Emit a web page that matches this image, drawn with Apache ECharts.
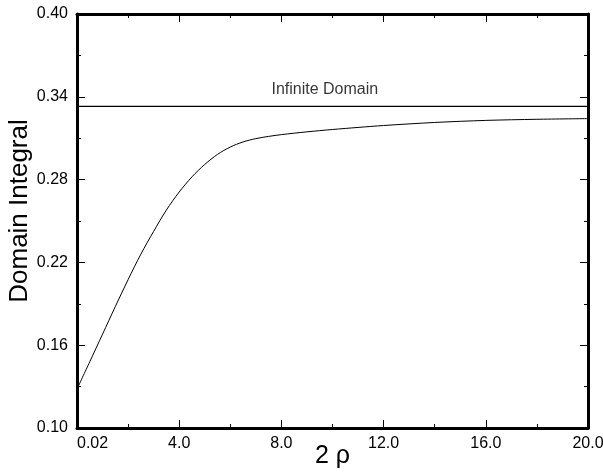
<!DOCTYPE html>
<html>
<head>
<meta charset="utf-8">
<script src="https://cdn.jsdelivr.net/npm/echarts@6/dist/echarts.min.js"></script>
<style>
html, body { margin: 0; padding: 0; background: #fff; }
#chart { width: 603px; height: 473px; }
</style>
</head>
<body>
<div id="chart"></div>
<script>
// 2 rho values and the domain integral
const rho2 = [0.02, 0.5, 1.0, 1.5, 2.0, 2.5, 3.0, 3.5, 4.0, 4.5, 5.0, 5.5, 6.0, 6.5, 7.0, 7.5, 8.0, 9.0, 10.0, 11.0, 12.0, 14.0, 16.0, 18.0, 20.0];
const integral = [0.129, 0.148, 0.168, 0.188, 0.2075, 0.226, 0.2425, 0.258, 0.271, 0.282, 0.291, 0.2983, 0.3036, 0.3073, 0.3097, 0.3113, 0.3126, 0.3146, 0.3163, 0.3178, 0.3192, 0.3214, 0.3229, 0.3237, 0.3242];

// infinite domain reference level
const infiniteX = [0, 20];
const infiniteY = [0.333, 0.333];
const infiniteLabel = "Infinite Domain";
const infiniteLabelX = 9.7;

const xTicks = { min: 0, max: 20, interval: 4 };
const yTicks = { min: 0.10, max: 0.40, interval: 0.06 };

const font = "'Liberation Sans', Arial, Helvetica, sans-serif";

const axisCommon = {
  axisLine: { show: true, onZero: false, lineStyle: { color: "#000", width: 3 } },
  axisTick: { show: true, inside: true, length: 8, lineStyle: { color: "#000", width: 1 } },
  minorTick: { show: true, splitNumber: 2, length: 4, lineStyle: { color: "#000", width: 1 } },
  splitLine: { show: false }
};

const chart = echarts.init(document.getElementById("chart"));
chart.setOption({
  animation: false,
  backgroundColor: "#fff",
  grid: { left: 77, right: 15, top: 14, bottom: 45, outerBoundsMode: "none" },
  xAxis: [
    {
      type: "value",
      position: "bottom",
      ...xTicks,
      ...axisCommon,
      name: "2 ρ",
      nameLocation: "middle",
      nameGap: 16,
      nameMoveOverlap: false,
      nameTextStyle: { fontFamily: font, fontSize: 25, color: "#000" },
      axisLabel: {
        color: "#000",
        fontFamily: font,
        fontSize: 16,
        margin: 8,
        alignMinLabel: "left",
        formatter: v => (v === 0 ? "0.02" : v.toFixed(1))
      }
    },
    {
      type: "value",
      position: "top",
      ...xTicks,
      ...axisCommon,
      axisLabel: { show: false }
    }
  ],
  yAxis: [
    {
      type: "value",
      position: "left",
      ...yTicks,
      ...axisCommon,
      name: "Domain Integral",
      nameLocation: "middle",
      nameGap: 44,
      nameMoveOverlap: false,
      nameTextStyle: { fontFamily: font, fontSize: 26, color: "#000", padding: [0, 0, 0, 20] },
      axisLabel: {
        color: "#000",
        fontFamily: font,
        fontSize: 16,
        margin: 9,
        formatter: v => v.toFixed(2)
      }
    },
    {
      type: "value",
      position: "right",
      ...yTicks,
      ...axisCommon,
      axisLabel: { show: false }
    }
  ],
  series: [
    {
      type: "line",
      data: rho2.map((x, i) => [x, integral[i]]),
      showSymbol: false,
      smooth: 0.3,
      lineStyle: { color: "#000", width: 1 },
      silent: true
    },
    {
      type: "line",
      data: infiniteX.map((x, i) => [x, infiniteY[i]]),
      showSymbol: false,
      lineStyle: { color: "#000", width: 1.3 },
      silent: true
    },
    {
      type: "scatter",
      data: [[infiniteLabelX, infiniteY[0]]],
      symbolSize: 0,
      silent: true,
      label: {
        show: true,
        position: "top",
        distance: 9,
        formatter: infiniteLabel,
        color: "#000",
        fontFamily: font,
        fontSize: 16
      }
    }
  ]
});
</script>
</body>
</html>
